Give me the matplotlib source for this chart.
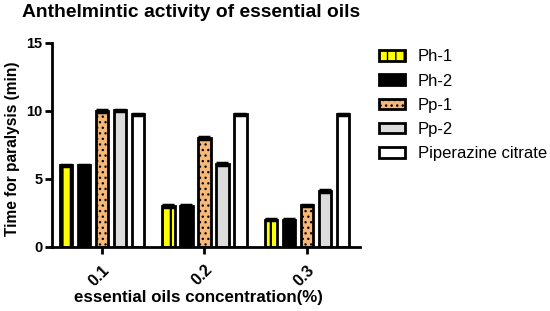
import matplotlib
matplotlib.use('Agg')
import matplotlib.pyplot as plt
import numpy as np

plt.rcParams['font.family'] = ['Liberation Sans', 'DejaVu Sans']

# 数据
concentrations = ['0.1', '0.2', '0.3']
series_names = ['Ph-1', 'Ph-2', 'Pp-1', 'Pp-2', 'Piperazine citrate']
ph1 = [6.0, 3.0, 2.0]
ph2 = [6.0, 3.0, 2.0]
pp1 = [10.0, 8.0, 3.05]
pp2 = [10.05, 6.1, 4.1]
piperazine = [9.75, 9.75, 9.75]
errors = [0.05, 0.05, 0.05]

colors = ['#ffff00', '#000000', '#f5b878', '#dcdcdc', '#ffffff']
hatches = ['||', None, '...', None, None]
hatch_lw = [1.6, 1.0, 0.9, 1.0, 1.0]

fig = plt.figure(figsize=(5.5, 3.11), dpi=100)
ax = fig.add_axes([0.0945, 0.206, 0.56, 0.656])

x = np.arange(len(concentrations))
width = 0.12
step = 0.176
all_series = [ph1, ph2, pp1, pp2, piperazine]
for i, vals in enumerate(all_series):
    pos = x + (i - 2) * step
    with plt.rc_context({'hatch.linewidth': hatch_lw[i]}):
        ax.bar(pos, vals, width, color=colors[i], edgecolor='black', linewidth=2,
               hatch=hatches[i], label=series_names[i], zorder=2)
    ax.errorbar(pos, vals, yerr=errors, fmt='none', ecolor='black',
                capsize=4.5, capthick=2.5, elinewidth=1.5, zorder=3)

ax.set_xlim(-0.49, 2.52)
ax.set_ylim(0, 15)
ax.set_yticks([0, 5, 10, 15])
ax.set_xticks(x)
ax.set_xticklabels(concentrations, rotation=45, ha='right', rotation_mode='anchor')
for lab in ax.get_yticklabels():
    lab.set_fontweight('bold')
    lab.set_fontsize(10.5)
for lab in ax.get_xticklabels():
    lab.set_fontweight('bold')
    lab.set_fontsize(11.5)

ax.spines['top'].set_visible(False)
ax.spines['right'].set_visible(False)
ax.spines['left'].set_linewidth(2)
ax.spines['bottom'].set_linewidth(2)
ax.tick_params(width=2, length=5, direction='out', pad=2)
ax.tick_params(axis='x', pad=6)

ax.set_ylabel('Time for paralysis (min)', fontsize=11.2, fontweight='bold')
ax.set_xlabel('essential oils concentration(%)', fontsize=12.2, fontweight='bold')
ax.yaxis.set_label_coords(-0.105, 0.483)
ax.xaxis.set_label_coords(0.474, -0.21)
fig.text(0.04, 0.96, 'Anthelmintic activity of essential oils', fontsize=13.9,
         fontweight='bold', va='center', ha='left')

ax.legend(loc='upper left', bbox_to_anchor=(1.023, 1.025), frameon=False,
          fontsize=12, handlelength=1.55, handleheight=0.6, handletextpad=0.8,
          labelspacing=0.55, borderaxespad=0.3)

fig.savefig('out.png', dpi=100)
